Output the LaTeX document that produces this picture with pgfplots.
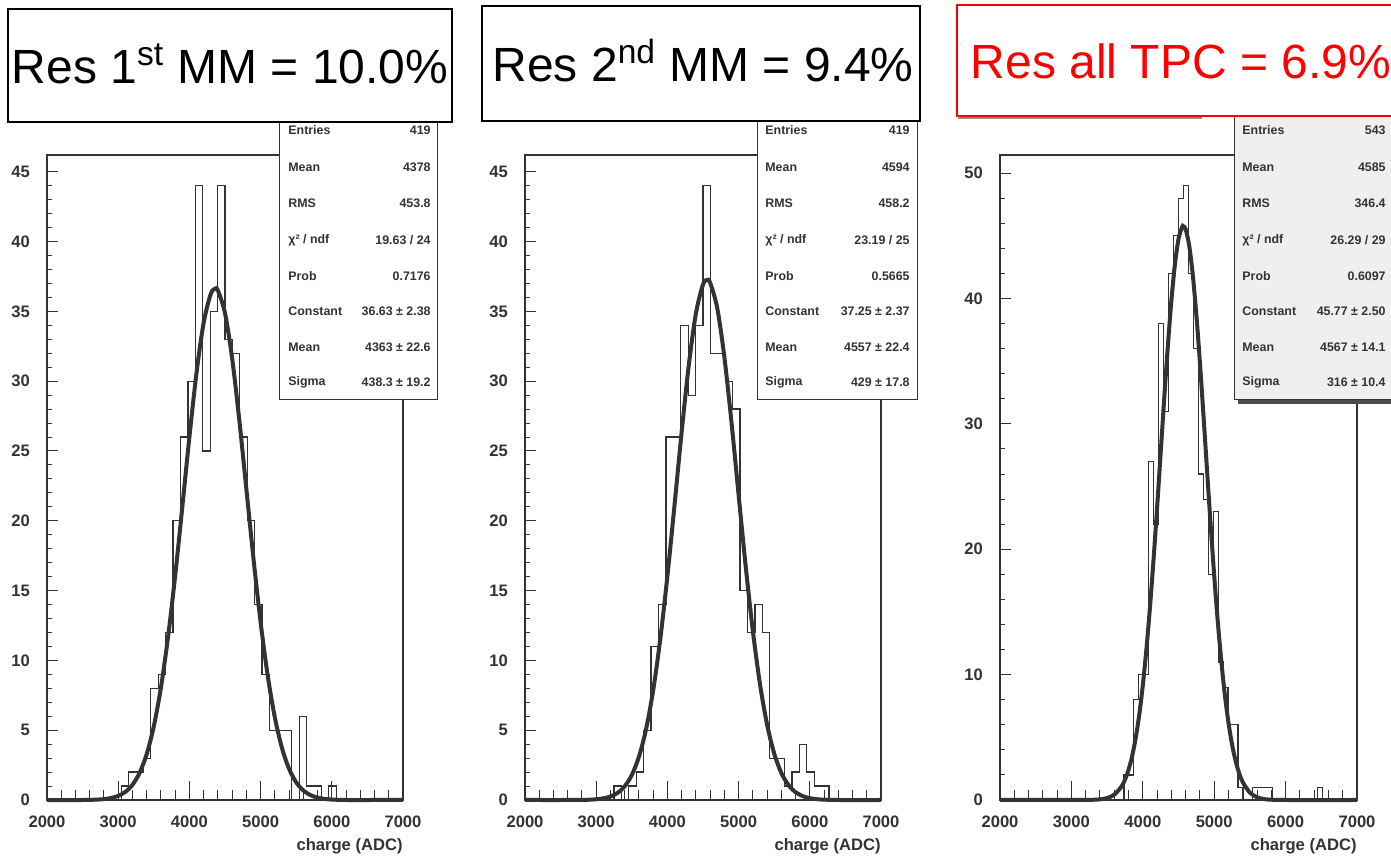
\documentclass[border=0pt]{standalone}
\usepackage{pgfplots}
\pgfplotsset{compat=1.18}
\usepackage{fontspec}
\setmainfont{Liberation Sans}
\definecolor{axisgray}{HTML}{333333}
\definecolor{statbg}{HTML}{F0EFEE}
\definecolor{resred}{HTML}{FF0000}

\pgfplotsset{
  panel/.style={scale only axis, width=178pt, height=322.5pt, xmin=2000, xmax=7000, ymin=0,
    anchor=south west, clip=false,
    axis line style={line width=0.6pt, color=axisgray},
    tick style={color=axisgray, line width=0.5pt},
    tick align=inside, tick pos=left,
    scaled ticks=false,
    /pgf/number format/assume math mode=true,
    /pgf/number format/1000 sep={},
    ticklabel style={font=\bfseries\fontsize{8.3}{10}\selectfont, text=axisgray},
  },
  yaxis/.style={panel, xtick=\empty, major tick length=5.3pt, minor tick length=2.7pt,
    minor y tick num=4, yticklabel style={xshift=-5pt}},
  xaxis/.style={panel, ymax=1, ytick=\empty, xtick={2000,3000,...,7000}, minor x tick num=4,
    major tick length=9.5pt, minor tick length=5pt, axis line style={draw=none},
    xticklabel style={yshift=-4.5pt},
    xlabel={charge (ADC)},
    xlabel style={at={(axis description cs:1,0)}, anchor=north east, yshift=-19pt, inner sep=0pt,
      font=\bfseries\fontsize{8.3}{10}\selectfont, text=axisgray}},
  hist/.style={const plot, color=axisgray, line width=0.6pt},
  fitc/.style={smooth, color=axisgray, line width=2pt},
}

\newcommand{\statrow}[3]{%
  \node[anchor=west, inner sep=0pt, text=axisgray, font=\bfseries\fontsize{6.2}{7}\selectfont] at (#1) {#3};}
\newcommand{\statval}[2]{%
  \node[anchor=east, inner sep=0pt, text=axisgray, font=\bfseries\fontsize{6.2}{7}\selectfont] at (#1) {#2};}

\begin{document}
\begin{tikzpicture}
\path[use as bounding box] (0,0) rectangle (695.5pt,430.5pt);
\clip (0,0) rectangle (695.5pt,430.5pt);
\fill[white] (0,0) rectangle (695.5pt,430.5pt);

% ---------------- Panel 1 ----------------
\begin{axis}[yaxis, at={(23.5pt,30.5pt)}, ymax=46.2, ytick={0,5,...,45}]
\addplot[hist] coordinates {
(2000,0) (3041.7,1) (3145.8,2) (3250,2) (3354.2,3) (3458.3,8) (3562.5,9) (3666.7,12)
(3770.8,20) (3875,26) (3979.2,30) (4083.3,44) (4187.5,25) (4291.7,35) (4395.8,44)
(4500,33) (4604.2,32) (4708.3,26) (4812.5,20) (4916.7,14) (5020.8,9) (5125,5) (5229.2,5)
(5333.3,5) (5437.5,0) (5541.7,6) (5645.8,1) (5750,1) (5854.2,0) (5958.3,1) (6062.5,0) (7000,0)};
\addplot[fitc] coordinates {
(2000,0) (2500,0) (2700,0.027) (2800,0.063) (2900,0.14) (3000,0.291) (3100,0.576) (3200,1.084)
(3300,1.935) (3400,3.278) (3500,5.274) (3600,8.05) (3700,11.67) (3800,16.05) (3900,20.97)
(4000,26.00) (4100,30.60) (4200,34.18) (4300,36.25) (4363,36.63) (4400,36.50) (4500,34.88)
(4600,31.65) (4700,27.26) (4800,22.28) (4900,17.29) (5000,12.74) (5100,8.91) (5200,5.915)
(5300,3.729) (5400,2.230) (5500,1.266) (5600,0.683) (5700,0.349) (5800,0.170) (5900,0.078)
(6000,0.03) (6200,0) (6600,0) (7000,0)};
\end{axis}
\begin{axis}[xaxis, at={(23.5pt,30.5pt)}]
\end{axis}

% ---------------- Panel 2 ----------------
\begin{axis}[yaxis, at={(262.5pt,30.5pt)}, ymax=46.2, ytick={0,5,...,45}]
\addplot[hist] coordinates {
(2000,0) (3250,1) (3354.2,0) (3458.3,1) (3562.5,2) (3666.7,5) (3770.8,11) (3875,14)
(3979.2,26) (4083.3,26) (4187.5,34) (4291.7,29) (4395.8,34) (4500,44) (4604.2,32)
(4708.3,32) (4812.5,30) (4916.7,28) (5020.8,15) (5125,12) (5229.2,14) (5333.3,12)
(5437.5,3) (5541.7,3) (5645.8,1) (5750,2) (5854.2,4) (5958.3,2) (6062.5,1) (6166.7,1)
(6270.8,0) (7000,0)};
\addplot[fitc] coordinates {
(2000,0) (2600,0) (2800,0.005) (2900,0.02) (3000,0.051) (3100,0.116) (3200,0.250) (3300,0.509)
(3400,0.981) (3500,1.790) (3600,3.093) (3700,5.062) (3800,7.85) (3900,11.53) (4000,16.04)
(4100,21.12) (4200,26.35) (4300,31.13) (4400,34.84) (4500,36.92) (4557,37.25) (4600,37.06)
(4700,35.24) (4800,31.73) (4900,27.06) (5000,21.86) (5100,16.72) (5200,12.12) (5300,8.31)
(5400,5.405) (5500,3.326) (5600,1.939) (5700,1.071) (5800,0.560) (5900,0.277) (6000,0.130)
(6100,0.058) (6200,0.024) (6400,0) (7000,0)};
\end{axis}
\begin{axis}[xaxis, at={(262.5pt,30.5pt)}]
\end{axis}

% ---------------- Panel 3 ----------------
\begin{axis}[yaxis, at={(500pt,30.5pt)}, width=178.5pt, ymax=51.45, ytick={0,10,...,50}]
\addplot[hist] coordinates {
(2000,0) (3736.1,2) (3805.6,2) (3875,8) (3944.4,10) (4013.9,10) (4083.3,27) (4152.8,22)
(4222.2,38) (4291.7,31) (4361.1,42) (4430.6,45) (4500,48) (4569.4,49) (4638.9,42)
(4708.3,36) (4777.8,26) (4847.2,24) (4916.7,18) (4986.1,23) (5055.6,11) (5125,9)
(5194.4,6) (5263.9,6) (5333.3,1) (5402.8,0) (5541.7,1) (5611.1,1) (5680.6,1) (5750,1)
(5819.4,0) (6444.4,1) (6513.9,0) (7000,0)};
\addplot[fitc] coordinates {
(2000,0) (3000,0) (3200,0.003) (3300,0.015) (3400,0.050) (3500,0.153) (3600,0.424) (3700,1.061)
(3750,1.618) (3800,2.406) (3850,3.490) (3900,4.934) (3950,6.802) (4000,9.150) (4050,12.01)
(4100,15.36) (4150,19.16) (4200,23.32) (4250,27.67) (4300,32.03) (4350,36.15) (4400,39.81)
(4450,42.74) (4500,44.75) (4550,45.70) (4567,45.77) (4600,45.52) (4650,44.22) (4700,41.89)
(4750,38.70) (4800,34.88) (4850,30.65) (4900,26.27) (4950,21.96) (5000,17.90) (5050,14.23)
(5100,11.04) (5150,8.345) (5200,6.155) (5250,4.427) (5300,3.106) (5350,2.125) (5400,1.418)
(5500,0.586) (5600,0.219) (5700,0.074) (5800,0.022) (6000,0) (7000,0)};
\end{axis}
\begin{axis}[xaxis, at={(500pt,30.5pt)}, width=178.5pt]
\end{axis}

% ---------------- boxes (pixel coordinates) ----------------
\begin{scope}[x=0.5pt, y=-0.5pt, shift={(0pt,430.5pt)}]
  % faint pad remnants
  \draw[black!45, line width=0.5pt] (8,78) -- (8,122) -- (280,122);
  \draw[black!45, line width=0.8pt] (958,118) -- (1202,118);

  % stats box 1
  \draw[axisgray, line width=0.5pt, fill=white] (279,112) rectangle (437,400);
  \foreach \yy/\lab/\val in {130/Entries/419, 167/Mean/4378, 203/RMS/453.8,
      240/{χ² / ndf}/{19.63 / 24}, 276/Prob/0.7176, 311/Constant/{36.63 ± 2.38},
      347/Mean/{4363 ± 22.6}, 382/Sigma/{438.3 ± 19.2}}{
    \statrow{288,\yy}{}{\lab}\statval{431,\yy}{\val}}

  % stats box 2
  \draw[axisgray, line width=0.5pt, fill=white] (757,112) rectangle (917,400);
  \foreach \yy/\lab/\val in {130/Entries/419, 167/Mean/4594, 203/RMS/458.2,
      240/{χ² / ndf}/{23.19 / 25}, 276/Prob/0.5665, 311/Constant/{37.25 ± 2.37},
      347/Mean/{4557 ± 22.4}, 382/Sigma/{429 ± 17.8}}{
    \statrow{765,\yy}{}{\lab}\statval{910,\yy}{\val}}

  % stats box 3 (grey, with shadow)
  \fill[black!70] (1238,116) rectangle (1396,404);
  \draw[axisgray, line width=0.5pt, fill=statbg] (1234,112) rectangle (1392,400);
  \foreach \yy/\lab/\val in {130/Entries/543, 167/Mean/4585, 203/RMS/346.4,
      240/{χ² / ndf}/{26.29 / 29}, 276/Prob/0.6097, 311/Constant/{45.77 ± 2.50},
      347/Mean/{4567 ± 14.1}, 382/Sigma/{316 ± 10.4}}{
    \statrow{1242,\yy}{}{\lab}\statval{1386,\yy}{\val}}

  % title boxes
  \draw[black, line width=1pt, fill=white] (8,9) rectangle (452,122);
  \node[anchor=base, inner sep=0pt, font=\fontsize{24}{28}\selectfont] at (230,84)
    {Res 1\textsuperscript{st} MM = 10.0\%};
  \draw[black, line width=1pt, fill=white] (482,6) rectangle (920,121);
  \node[anchor=base, inner sep=0pt, font=\fontsize{24}{28}\selectfont] at (703,82)
    {Res 2\textsuperscript{nd} MM = 9.4\%};
  \draw[resred, line width=1pt, fill=white] (957,5) rectangle (1400,116);
  \node[anchor=base, inner sep=0pt, text=resred, font=\fontsize{24}{28}\selectfont] at (1181,79)
    {Res all TPC = 6.9\%};
\end{scope}
\end{tikzpicture}
\end{document}
